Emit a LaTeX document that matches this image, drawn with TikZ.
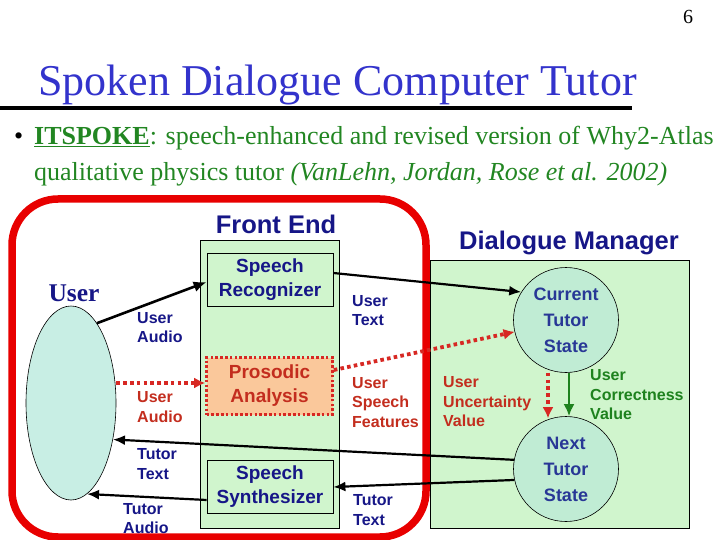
\documentclass[tikz,border=0pt]{standalone}
\usepackage{fontspec}
\setmainfont{Liberation Serif}
\setsansfont{Liberation Sans}
\usetikzlibrary{arrows.meta,shapes.geometric}
\definecolor{titleblue}{RGB}{51,51,204}
\definecolor{bulletgreen}{RGB}{34,134,34}
\definecolor{navy}{RGB}{22,22,135}
\definecolor{circnavy}{RGB}{40,55,150}
\definecolor{darkred}{RGB}{195,45,30}
\definecolor{labgreen}{RGB}{30,130,30}
\definecolor{boxgreen}{RGB}{208,245,205}
\definecolor{userfill}{RGB}{200,238,228}
\definecolor{circfill}{RGB}{192,236,212}
\definecolor{orangefill}{RGB}{250,200,155}
\definecolor{bigred}{RGB}{232,0,0}
\definecolor{dotred}{RGB}{215,40,35}
\tikzset{
  panel/.style={draw=black, line width=0.8pt, fill=boxgreen, inner sep=0},
  modbox/.style={draw=black, line width=0.8pt, fill=boxgreen, inner sep=0,
    minimum width=126pt, minimum height=53pt, align=center, text=navy,
    font=\sffamily\bfseries\fontsize{19}{24}\selectfont},
  prosbox/.style={draw=dotred, line width=2.6pt, dash pattern=on 2.6pt off 2.2pt,
    fill=orangefill, inner sep=0, minimum width=126pt, minimum height=57pt,
    align=center, text=darkred, font=\sffamily\bfseries\fontsize{19}{24}\selectfont},
  statecirc/.style={circle, draw=black, line width=0.6pt, fill=circfill,
    minimum size=105pt, inner sep=0, align=center, text=circnavy,
    font=\sffamily\bfseries\fontsize{18}{26}\selectfont},
  header/.style={text=navy, font=\sffamily\bfseries\fontsize{25.5}{30}\selectfont, inner sep=0},
  lab/.style={anchor=west, inner sep=0, align=left,
    font=\sffamily\bfseries\fontsize{16}{19.5}\selectfont},
  blackarrow/.style={draw=black, line width=2.6pt, -{Latex[length=13pt,width=11pt]}},
  thinarrow/.style={draw=black, line width=2.2pt, -{Latex[length=12pt,width=10pt]}},
  redarrow/.style={draw=dotred, line width=3.8pt, dash pattern=on 3.6pt off 3.2pt,
    -{Latex[length=11pt,width=11pt]}},
  greenarrow/.style={draw=labgreen, line width=2.4pt, -{Latex[length=12pt,width=11pt]}}
}
\begin{document}
\begin{tikzpicture}[x=1pt,y=-1pt]
\useasboundingbox (0,0) rectangle (720,540);
% slide number and title
\node[anchor=base, inner sep=0, font=\fontsize{20}{24}\selectfont] (num) at (688,24) {6};
\node[anchor=base west, inner sep=0, text=titleblue, font=\fontsize{44}{50}\selectfont] (title) at (38,96) {Spoken Dialogue Computer Tutor};
\coordinate (rulel) at (0,108);
\coordinate (ruler) at (632,108);
\draw[line width=4pt] (rulel) -- (ruler);
% bullet
\node[anchor=base west, inner sep=0, text=black, font=\fontsize{26}{30}\selectfont] (bul) at (14,145) {•};
\node[anchor=base west, inner sep=0, text=bulletgreen, font=\fontsize{26}{30}\selectfont] (line1) at (34,145) {\underline{\textbf{ITSPOKE}}: speech-enhanced and revised version of Why2-Atlas};
\node[anchor=base west, inner sep=0, text=bulletgreen, font=\fontsize{26}{30}\selectfont] (line2) at (34,181) {qualitative physics tutor \textit{(VanLehn, Jordan, Rose et al. 2002)}};
% panels
\node[panel, minimum width=139pt, minimum height=288pt] (fe) at (269.5,384) {};
\node[panel, minimum width=259pt, minimum height=268pt] (dm) at (559.5,394) {};
\node[header] (felab) at (276,224) {Front End};
\node[header] (dmlab) at (569,243) {Dialogue Manager};
% front end modules
\node[modbox] (sr) at (270,279.5) {Speech\\Recognizer};
\node[prosbox] (pa) at (269.5,386) {Prosodic\\Analysis};
\node[modbox] (ss) at (270,487) {Speech\\Synthesizer};
% user
\node[ellipse, draw=black, line width=0.6pt, fill=userfill, minimum width=90pt, minimum height=194pt, inner sep=0] (user) at (71,403) {};
\node[inner sep=0, text=navy, font=\bfseries\fontsize{25.5}{30}\selectfont] (userlab) at (74,293) {User};
% states
\node[statecirc] (cur) at (566,320) {Current\\Tutor\\State};
\node[statecirc] (nxt) at (566,469) {Next\\Tutor\\State};
% big red frame
\draw[bigred, line width=7.5pt, rounded corners=46pt] (12,199) rectangle (426,537);
% connectors
\draw[blackarrow] (user.72) -- ([yshift=-2.5pt]sr.west);
\draw[redarrow] ([yshift=3pt]pa.west -| user.east) -- ([yshift=3pt]pa.west);
\draw[thinarrow] ([yshift=6.5pt]sr.east) -- (cur.148);
\draw[redarrow] ([yshift=16pt]pa.east) -- (cur.193);
\draw[thinarrow] (nxt.170) -- (user.-41);
\draw[thinarrow] (nxt.192) -- (ss.east);
\draw[thinarrow] ([yshift=-13pt]ss.west) -- (user.-80);
\draw[redarrow] ([xshift=-18pt]cur.south) -- ([xshift=-18pt,yshift=-2pt]nxt.north);
\draw[greenarrow] ([xshift=3pt]cur.south) -- ([xshift=3pt]nxt.north);
% labels
\node[lab, text=navy] (l1) at (137,327.5) {User\\Audio};
\node[lab, text=darkred] (l2) at (137,407) {User\\Audio};
\node[lab, text=navy] (l3) at (137,464) {Tutor\\Text};
\node[lab, text=navy] (l4) at (123,518.5) {Tutor\\Audio};
\node[lab, text=navy] (l5) at (352,310.5) {User\\Text};
\node[lab, text=darkred] (l6) at (352,402.5) {User\\Speech\\Features};
\node[lab, text=navy] (l7) at (353,510) {Tutor\\Text};
\node[lab, text=darkred] (l8) at (443,402) {User\\Uncertainty\\Value};
\node[lab, text=labgreen] (l9) at (590,395) {User\\Correctness\\Value};
\end{tikzpicture}
\end{document}
